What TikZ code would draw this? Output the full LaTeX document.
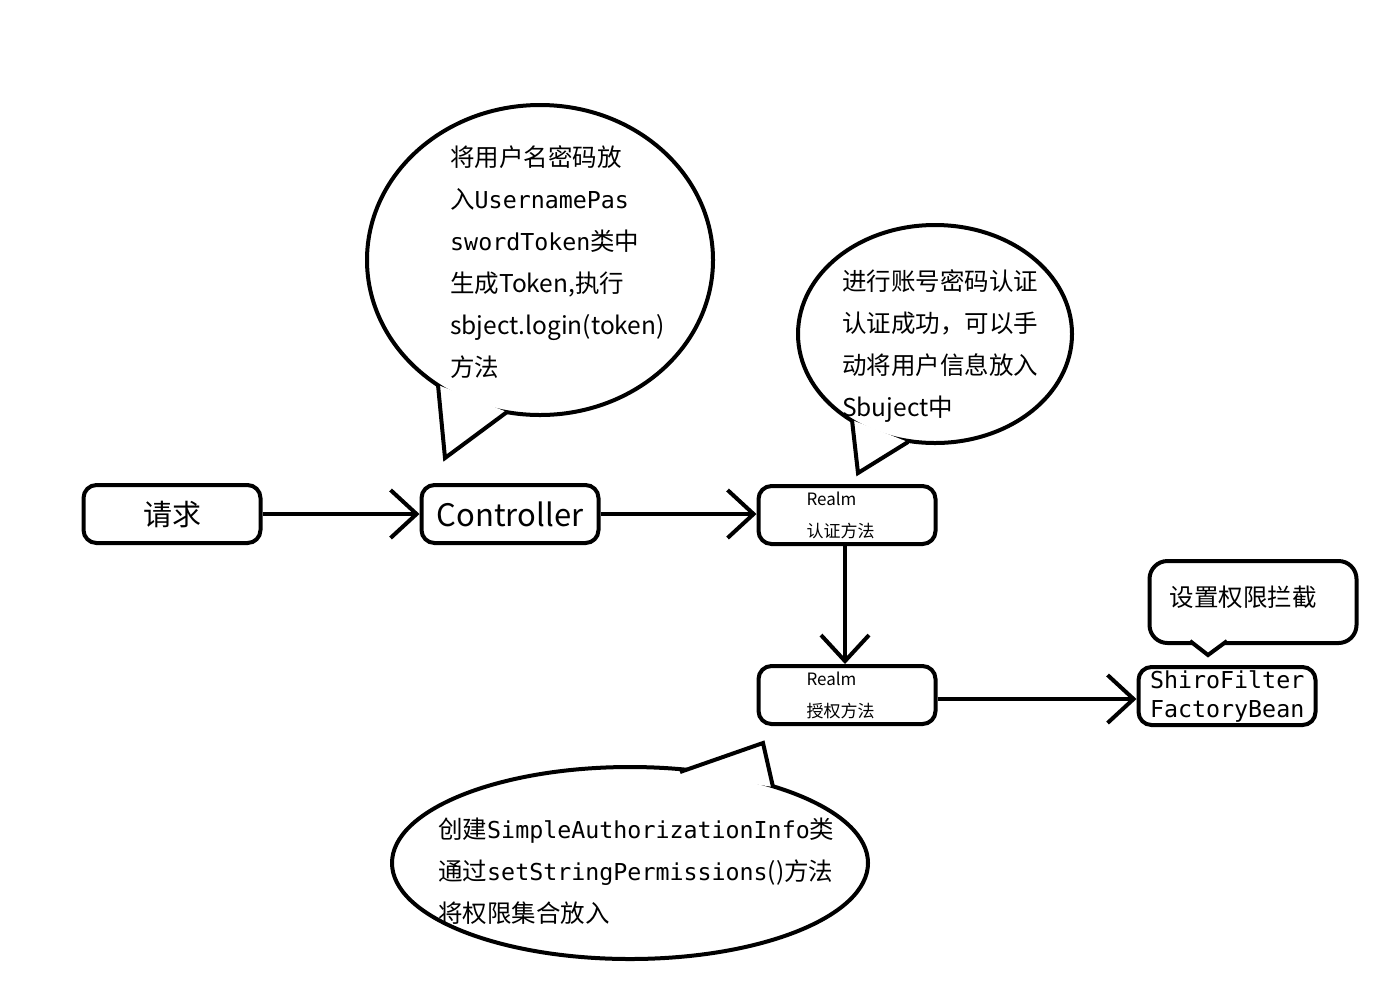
\documentclass[tikz,border=0pt]{standalone}
\usepackage{fontspec}
\setmainfont{Noto Sans CJK SC}
\newfontfamily\codefont{DejaVu Sans Mono}
\newcommand{\codepart}[1]{{\codefont\fontsize{23.3}{42}\selectfont #1}}
\usetikzlibrary{arrows.meta,shapes.geometric}
\definecolor{ink}{RGB}{0,0,0}

\begin{document}
\begin{tikzpicture}[x=1pt,y=-1pt,
    flowbox/.style={draw=ink,line width=4pt,rounded corners=13pt,
      minimum width=177pt,minimum height=58pt,inner sep=0pt},
    flowarrow/.style={draw=ink,line width=4pt,
      -{Straight Barb[length=26pt,width=48pt]}},
    bubble/.style={draw=ink,line width=4pt,fill=white,ellipse,inner sep=0pt},
    tail/.style={draw=ink,line width=4pt,fill=white,line join=miter},
    bubbletext/.style={anchor=north west,inner sep=0pt,align=left,
      font=\fontsize{24.5}{42}\selectfont}]
  \useasboundingbox[fill=white] (0,0) rectangle (1388,989);

  % speech bubbles
  \node[bubble,minimum width=346pt,minimum height=310pt] (bubLogin) at (540,260) {};
  \draw[tail] (438,385) -- (445,458) -- (507,412);
  \node[bubble,minimum width=274pt,minimum height=218pt] (bubAuthn) at (935,334) {};
  \draw[tail] (852,420) -- (858,473) -- (908,442);
  \node[bubble,minimum width=476pt,minimum height=192pt] (bubAuthz) at (630,863) {};
  \draw[tail] (680,772) -- (763,743) -- (773,787);
  \node[draw=ink,line width=4pt,fill=white,rounded corners=18pt,
    minimum width=207pt,minimum height=82pt] (bubFilter) at (1253,602) {};
  \draw[tail] (1190,641) -- (1208,655) -- (1227,641);

  \node[bubbletext] (txtLogin) at (450,145) {%
    将用户名密码放\\
    入\codepart{UsernamePas}\\
    \codepart{swordToken}类中\\
    生成Token,执行\\
    sbject.login(token)\\
    方法};
  \node[bubbletext] (txtAuthn) at (842,269) {%
    进行账号密码认证\\
    认证成功，可以手\\
    动将用户信息放入\\
    Sbuject中};
  \node[bubbletext] (txtAuthz) at (438,818) {%
    创建\codepart{SimpleAuthorizationInfo}类\\
    通过\codepart{setStringPermissions}()方法\\
    将权限集合放入};
  \node[inner sep=0pt,font=\fontsize{24.5}{30}\selectfont] (txtFilter) at (1243,597) {设置权限拦截};

  % flow
  \node[flowbox,font=\fontsize{29}{34}\selectfont] (req) at (172,514) {请求};
  \node[flowbox,font=\fontsize{31}{36}\selectfont] (ctrl) at (510,514) {Controller};
  \node[flowbox,text width=81pt,inner xsep=48pt,align=left,
    font=\fontsize{17}{32}\selectfont] (authn) at (847,515) {Realm\\认证方法};
  \node[flowbox,text width=81pt,inner xsep=48pt,align=left,
    font=\fontsize{17}{32}\selectfont] (authz) at (847,695) {Realm\\授权方法};
  \node[flowbox,text width=154pt,inner xsep=11pt,align=left,
    font=\codefont\fontsize{23.3}{29}\selectfont] (shiro) at (1227,696) {ShiroFilter\\FactoryBean};

  \draw[flowarrow] (req) -- (ctrl);
  \draw[flowarrow] (ctrl.east) -- (authn.west |- ctrl.east);
  \draw[flowarrow] ([xshift=-2pt]authn.south) -- ([xshift=-2pt]authn.south |- authz.north);
  \draw[flowarrow] ([yshift=-4pt]authz.east) -- ([yshift=-4pt]authz.east -| shiro.west);
\end{tikzpicture}
\end{document}
